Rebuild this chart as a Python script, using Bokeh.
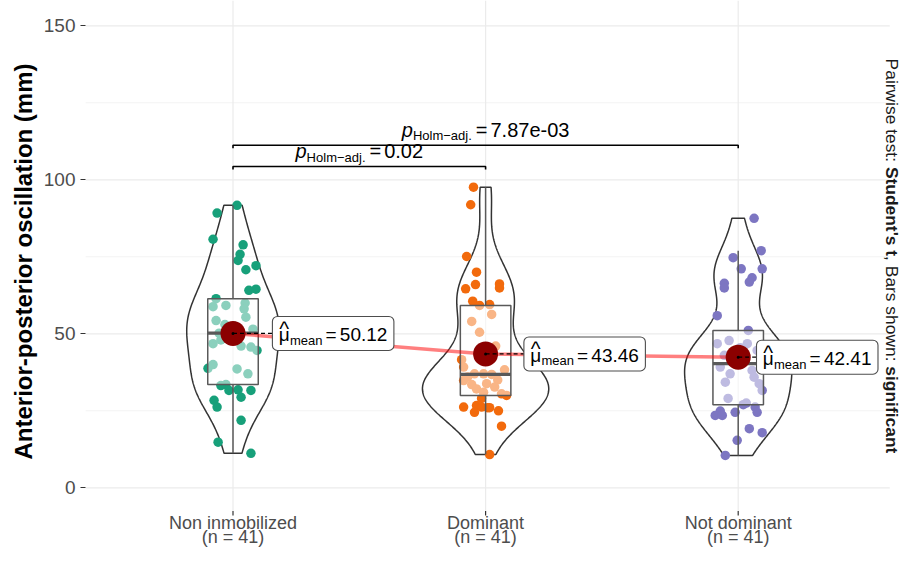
import numpy as np
from bokeh.plotting import figure
from bokeh.models import Label, FixedTicker, Title
from bokeh.embed import file_html
from bokeh.resources import INLINE

# ---------------- data ----------------
categories = ["Non inmobilized", "Dominant", "Not dominant"]
n_labels = ["(n = 41)", "(n = 41)", "(n = 41)"]

values_non_inmobilized = [91.7, 89.2, 80.7, 78.9, 75.8, 73.8, 72.1, 70.8, 64.5, 64.1,
                          61.4, 60.0, 59.2, 58.8, 58.1, 55.4, 54.3, 53.0, 52.5, 51.5,
                          50.2, 48.0, 46.8, 46.0, 45.7, 44.6, 40.0, 38.8, 38.6, 37.0,
                          33.5, 33.2, 31.8, 31.6, 31.6, 29.4, 28.4, 26.2, 21.9, 14.8, 11.2]
jitter_non_inmobilized = [0.016, -0.063, -0.079, 0.040, 0.028, 0.020, 0.091, 0.051, 0.091, 0.063,
                          -0.067, 0.048, -0.028, -0.079, 0.044, 0.051, -0.067, -0.032, 0.004, 0.079,
                          -0.055, -0.048, -0.079, 0.032, 0.071, 0.095, -0.079, -0.099, 0.016, 0.059,
                          -0.028, -0.048, 0.020, -0.016, 0.071, 0.032, -0.075, -0.063, 0.032, -0.059, 0.071]

values_dominant = [97.6, 91.9, 75.1, 70.0, 66.2, 66.0, 64.9, 64.6, 60.6, 59.5,
                   59.2, 56.3, 54.0, 50.5, 46.0, 41.6, 39.2, 38.3, 37.0, 37.0,
                   36.8, 36.0, 35.0, 34.8, 33.8, 33.5, 32.7, 32.1, 31.0, 30.5,
                   30.0, 29.0, 26.7, 26.2, 26.2, 26.0, 26.0, 25.0, 24.5, 20.0, 10.8]
jitter_dominant = [-0.048, -0.059, -0.075, -0.036, 0.055, -0.040, 0.055, -0.079, -0.051, 0.016,
                   -0.024, 0.024, -0.055, -0.024, 0.040, -0.095, -0.087, 0.075, -0.044, -0.008,
                   0.024, -0.071, 0.048, -0.087, 0.004, -0.055, 0.036, -0.036, -0.008, 0.063,
                   0.083, -0.016, -0.036, -0.087, -0.016, 0.008, 0.016, 0.051, -0.044, 0.063, 0.016]

values_not_dominant = [87.5, 77.0, 74.7, 71.1, 71.1, 68.2, 66.8, 66.4, 64.9, 55.9,
                       51.1, 45.5, 47.8, 46.8, 46.8, 43.5, 44.6, 43.0, 42.0, 41.0,
                       40.3, 39.2, 38.1, 37.0, 35.9, 34.3, 33.8, 31.6, 27.5, 29.0,
                       27.0, 26.2, 24.9, 24.5, 24.5, 23.5, 23.5, 19.2, 17.9, 15.4, 10.5]
jitter_not_dominant = [0.063, 0.091, -0.020, 0.012, 0.095, 0.055, 0.044, -0.055, -0.055, -0.083,
                       0.040, 0.008, -0.036, -0.083, 0.036, -0.012, 0.075, -0.055, 0.024, -0.024,
                       0.008, -0.071, 0.055, -0.032, 0.063, -0.051, 0.083, 0.095, 0.032, -0.040,
                       0.020, 0.067, -0.071, -0.012, 0.075, -0.091, -0.063, 0.044, 0.095, -0.004, -0.051]

means = [50.12, 43.46, 42.41]
mean_texts = ["50.12", "43.46", "42.41"]

pairs = [(1, 2), (1, 3)]
p_value_texts = ["0.02", "7.87e-03"]
bracket_y = [104.3, 111.2]

y_ticks = [0, 50, 100, 150]
y_minor_ticks = [25, 75, 125]

groups_values = [values_non_inmobilized, values_dominant, values_not_dominant]
groups_jitter = [jitter_non_inmobilized, jitter_dominant, jitter_not_dominant]

# ---------------- styles / layout ----------------
colors = ["#17A07A", "#F26A0C", "#7D76C2"]
FONT = "Liberation Sans"
W, H = 902, 547
FL = 85                 # frame left (px)
PXX, PXY = 252.6, 3.08  # px per category / px per mm
CAT1_PX, Y50_PX = 232.5, 333.3
XS = 1 - (CAT1_PX - FL) / PXX
XE = XS + (W - FL) / PXX
Y1 = 50 + Y50_PX / PXY
Y0 = Y1 - H / PXY
PANEL_BOTTOM = Y1 - 510.5 / PXY
PANEL_RIGHT = 3.6
BL = 0.31   # renderer places alphabetic baseline ~0.31 em below anchor; compensate


def py_to_val(py):
    return Y1 - py / PXY


# Arial / Liberation Sans advance widths (per 1000 em)
REG = {' ': 278, '(': 333, ')': 333, ',': 278, '-': 333, '.': 278, ':': 278, '=': 584,
       'B': 667, 'H': 722, 'N': 722, 'P': 667, 'S': 667, 'a': 556, 'b': 556, 'c': 500,
       'd': 556, 'e': 556, 'f': 278, 'g': 556, 'h': 556, 'i': 222, 'j': 222, 'l': 222,
       'm': 833, 'n': 556, 'o': 556, 'p': 556, 'r': 333, 's': 500, 't': 278, 'u': 556,
       'w': 722, 'z': 500, "'": 191, '\u2212': 584, '\u03bc': 576}
BOLD = {' ': 278, "'": 238, ',': 278, ':': 333, 'S': 667, 'a': 556, 'c': 556, 'd': 611,
        'e': 556, 'f': 333, 'g': 611, 'i': 278, 'n': 611, 's': 556, 't': 333, 'u': 611}


def tw(s, size, bold=False):
    tab = BOLD if bold else REG
    tot = 0
    for ch in s:
        tot += 556 if ch.isdigit() else tab.get(ch, 556)
    return tot * size / 1000.0


def text_label(x, y, txt, xo, yo, fs, color="black", style="normal", align="left", angle=0.0):
    return Label(x=x, y=y, x_offset=xo, y_offset=yo + BL * fs, text=txt, angle=angle,
                 text_font=FONT, text_font_style=style, text_font_size=f"{fs}px",
                 text_color=color, text_align=align, text_baseline="alphabetic")


p = figure(width=W, height=H, x_range=(XS, XE), y_range=(Y0, Y1),
           output_backend="svg", toolbar_location=None,
           min_border_left=FL, min_border_right=0, min_border_top=0, min_border_bottom=0)
p.outline_line_color = None
p.background_fill_color = "white"
p.border_fill_color = "white"
p.xaxis.visible = False
p.xgrid.visible = False
p.ygrid.visible = False

p.yaxis.ticker = FixedTicker(ticks=y_ticks)
p.yaxis.axis_line_color = None
p.yaxis.major_tick_out = 5
p.yaxis.major_tick_in = 0
p.yaxis.major_tick_line_color = "#333333"
p.yaxis.major_tick_line_width = 1.2
p.yaxis.minor_tick_line_color = None
p.yaxis.major_label_text_font = FONT
p.yaxis.major_label_text_font_size = "19px"
p.yaxis.major_label_text_color = "#4D4D4D"
p.yaxis.major_label_standoff = 5

# y-axis title: starts 88 px above the bottom edge, reading upwards
p.add_layout(Title(text="Anterior-posterior oscillation (mm)", align="left", offset=88,
                   standoff=8, text_font=FONT, text_font_style="bold",
                   text_font_size="24px", text_color="black"), "left")

# ---------------- panel grid (major + minor) ----------------
p.segment(XS, y_minor_ticks, PANEL_RIGHT, y_minor_ticks, line_color="#F2F2F2", line_width=0.9)
p.segment(XS, y_ticks, PANEL_RIGHT, y_ticks, line_color="#EBEBEB", line_width=1.2)
p.segment([1, 2, 3], PANEL_BOTTOM, [1, 2, 3], Y1, line_color="#EBEBEB", line_width=1.2)

# ---------------- violins (Gaussian KDE, bw.nrd0, trimmed) ----------------
profiles = []
for vals in groups_values:
    v = np.asarray(vals, dtype=float)
    n = len(v)
    sd = v.std(ddof=1)
    iqr = np.percentile(v, 75) - np.percentile(v, 25)
    bw = 0.9 * min(sd, iqr / 1.34) * n ** (-0.2)
    grid = np.linspace(v.min(), v.max(), 512)
    dens = np.exp(-0.5 * ((grid[:, None] - v[None, :]) / bw) ** 2).sum(1) / (n * bw * np.sqrt(2 * np.pi))
    profiles.append((grid, dens))
maxd = max(d.max() for _, d in profiles)
for i, (grid, dens) in enumerate(profiles):
    c = i + 1
    hw = 0.25 * dens / maxd
    xs = np.concatenate([c - hw, (c + hw)[::-1]])
    ys = np.concatenate([grid, grid[::-1]])
    p.patch(xs, ys, fill_color=None, line_color="#333333", line_width=1.5)

# ---------------- points ----------------
for i, (vals, jit) in enumerate(zip(groups_values, groups_jitter)):
    c = i + 1
    p.scatter([c + j for j in jit], vals, size=9.5, fill_color=colors[i], line_color=None)

# ---------------- boxplots ----------------
for i, vals in enumerate(groups_values):
    c = i + 1
    v = np.asarray(vals, dtype=float)
    q1, med, q3 = np.percentile(v, [25, 50, 75])
    iqr = q3 - q1
    lo = v[v >= q1 - 1.5 * iqr].min()
    hi = v[v <= q3 + 1.5 * iqr].max()
    hb = 0.1
    p.segment([c, c], [q3, q1], [c, c], [hi, lo], line_color="#595959", line_width=1.5)
    p.quad(left=c - hb, right=c + hb, bottom=q1, top=q3, fill_color="white", fill_alpha=0.5,
           line_color="#595959", line_width=1.5)
    p.segment(c - hb, med, c + hb, med, line_color="#595959", line_width=3.2)

# ---------------- x axis ticks and labels (drawn in the frame) ----------------
cats = [1, 2, 3]
p.segment(cats, PANEL_BOTTOM, cats, PANEL_BOTTOM - 4.5 / PXY, line_color="#333333", line_width=1.2)
for c, name, nl in zip(cats, categories, n_labels):
    p.add_layout(text_label(c, PANEL_BOTTOM, name, 0, -17.5, 18, color="#4D4D4D", align="center"))
    p.add_layout(text_label(c, PANEL_BOTTOM, nl, 0, -32.0, 18, color="#4D4D4D", align="center"))

# ---------------- means ----------------
p.line(cats, means, line_color="red", line_alpha=0.5, line_width=3.5)
p.scatter(cats, means, size=25, fill_color="#8B0000", line_color=None)

label_dx = [39.4, 38.3, 18.3]  # px from mean point to label box
MF, SF = 19, 13
for i, m in enumerate(means):
    c = i + 1
    off = label_dx[i]
    mu_x = 6.3
    sub_x = mu_x + tw('\u03bc', MF) + 0.3
    eq_x = sub_x + tw('mean', SF) + 3.0
    val_x = eq_x + tw('=', MF) + 3.3
    box_w = val_x + tw(mean_texts[i], MF) + 6.5
    left = c + off / PXX
    p.segment(c, m, left, m, line_color="black", line_width=1.3, line_dash="4 3")
    p.scatter([c], [m], size=3, fill_color="black", line_color=None)
    p.quad(left=left, right=c + (off + box_w) / PXX, bottom=m - 17 / PXY, top=m + 17 / PXY,
           fill_color="white", line_color="#4D4D4D", line_width=1.1, border_radius=5)
    p.add_layout(text_label(c, m, '\u03bc', off + mu_x, -7.3, MF))
    p.add_layout(text_label(c, m, 'mean', off + sub_x, -11.0, SF))
    p.add_layout(text_label(c, m, '=', off + eq_x, -7.3, MF))
    p.add_layout(text_label(c, m, mean_texts[i], off + val_x, -7.3, MF))
    p.add_layout(text_label(c, m, '^', off + mu_x + tw('\u03bc', MF) / 2, -1.5, 21, align="center"))

# ---------------- significance brackets ----------------
PF = 20
for (a, b), yb, ptxt in zip(pairs, bracket_y, p_value_texts):
    tick = 3 / PXY
    p.line([a, a, b, b], [yb - tick, yb, yb, yb - tick], line_color="black", line_width=1.6)
    mid = (a + b) / 2
    wp = tw('p', PF)
    ws = tw('Holm\u2212adj.', SF)
    we = tw('=', PF)
    wv = tw(ptxt, PF)
    total = wp + ws + 4 + we + 3 + wv
    x = -total / 2
    p.add_layout(text_label(mid, yb, 'p', x, 9.5, PF, style="italic"))
    x += wp
    p.add_layout(text_label(mid, yb, 'Holm\u2212adj.', x, 5.5, SF))
    x += ws + 4
    p.add_layout(text_label(mid, yb, '=', x, 9.5, PF))
    x += we + 3
    p.add_layout(text_label(mid, yb, ptxt, x, 9.5, PF))

# ---------------- right-side caption ----------------
RF = 17.4
cap_pieces = [("Pairwise test: ", False), ("Student's t", True),
              (", Bars shown: ", False), ("significant", True)]
total = sum(tw(t, RF, b) for t, b in cap_pieces)
ycap = py_to_val(255.5)
cum = 0.0
for t, b in cap_pieces:
    p.add_layout(Label(x=PANEL_RIGHT, y=ycap, x_offset=-3.6 + BL * RF, y_offset=total / 2 - cum,
                       text=t, angle=-np.pi / 2, text_font=FONT,
                       text_font_style="bold" if b else "normal",
                       text_font_size=f"{RF}px", text_color="#1A1A1A",
                       text_align="left", text_baseline="alphabetic"))
    cum += tw(t, RF, b)

open("out.html", "w").write(file_html(p, INLINE))
